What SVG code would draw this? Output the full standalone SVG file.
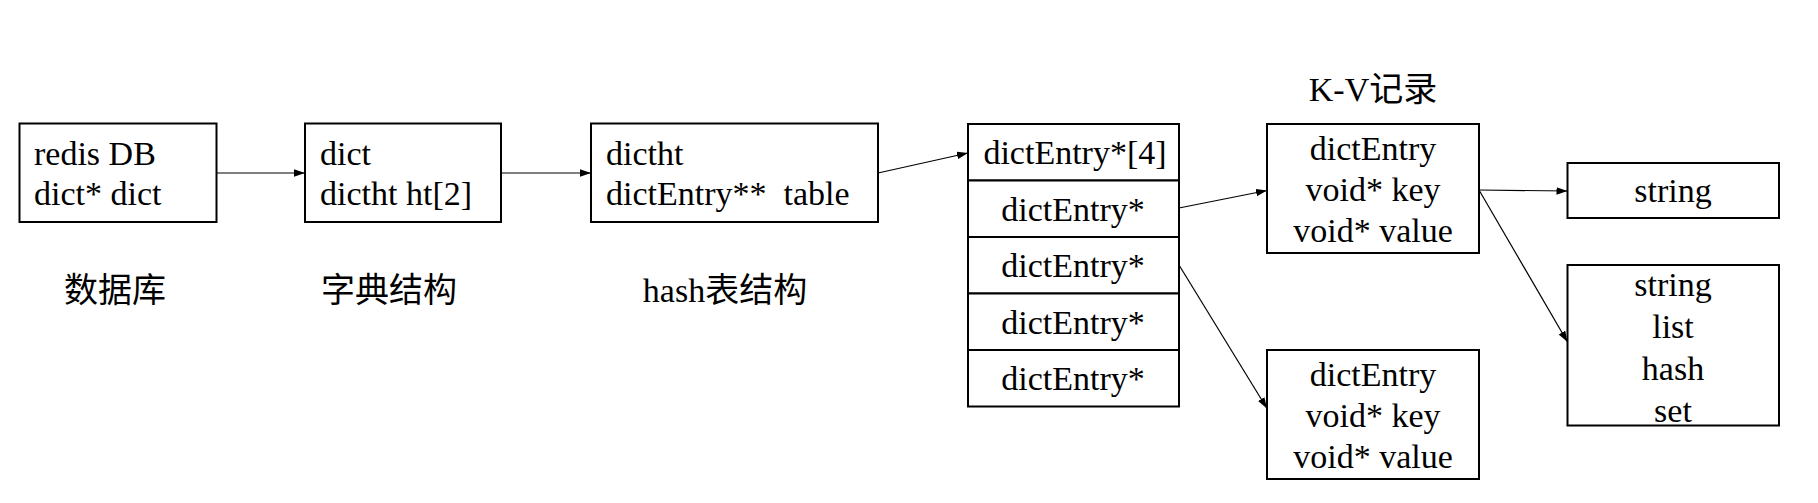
<svg xmlns="http://www.w3.org/2000/svg" width="1818" height="503" viewBox="0 0 1818 503">
  <style>
    .box { fill: #ffffff; stroke: #000000; stroke-width: 2; }
    .t { font-family: "Liberation Serif", "Noto Sans CJK SC", serif; font-size: 34px; fill: #000000; white-space: pre; }
    .c { text-anchor: middle; }
    .lbl { font-family: "Liberation Serif", "Noto Sans CJK SC", serif; font-size: 34px; fill: #000000; text-anchor: middle; }
    .conn { fill: none; stroke: #000000; stroke-width: 1.2; }
  </style>
  <defs>
    <marker id="arrow" markerUnits="userSpaceOnUse" markerWidth="12" markerHeight="8" refX="11" refY="3.75" orient="auto">
      <path d="M0,0 L11,3.75 L0,7.5 z" fill="#000000"/>
    </marker>
  </defs>
  <rect width="1818" height="503" fill="#ffffff"/>

  <g id="redisdb">
    <rect class="box" x="19.5" y="123.5" width="197" height="98.5"/>
    <text class="t" x="34" y="165">redis DB</text>
    <text class="t" x="34" y="205">dict* dict</text>
  </g>
  <g id="label-db">
    <text class="lbl" x="115" y="302">数据库</text>
  </g>

  <g id="dict">
    <rect class="box" x="305" y="123.5" width="196" height="98.5"/>
    <text class="t" x="320" y="165">dict</text>
    <text class="t" x="320" y="205">dictht ht[2]</text>
  </g>
  <g id="label-dict">
    <text class="lbl" x="389" y="302">字典结构</text>
  </g>

  <g id="dictht">
    <rect class="box" x="591" y="123.5" width="287" height="98.5"/>
    <text class="t" x="606" y="165">dictht</text>
    <text class="t" x="606" y="205">dictEntry**  table</text>
  </g>
  <g id="label-hash">
    <text class="lbl" x="725" y="302">hash表结构</text>
  </g>

  <g id="table">
    <rect class="box" x="968" y="124" width="211" height="56.5"/>
    <rect class="box" x="968" y="180.5" width="211" height="56.5"/>
    <rect class="box" x="968" y="237" width="211" height="56.5"/>
    <rect class="box" x="968" y="293.5" width="211" height="56.5"/>
    <rect class="box" x="968" y="350" width="211" height="56.5"/>
    <text class="t c" x="1075" y="164">dictEntry*[4]</text>
    <text class="t c" x="1073" y="220.5">dictEntry*</text>
    <text class="t c" x="1073" y="277">dictEntry*</text>
    <text class="t c" x="1073" y="333.5">dictEntry*</text>
    <text class="t c" x="1073" y="390">dictEntry*</text>
  </g>

  <g id="label-kv">
    <text class="lbl" x="1373" y="101">K-V记录</text>
  </g>

  <g id="entry1">
    <rect class="box" x="1267" y="124" width="212" height="129"/>
    <text class="t c" x="1373" y="160">dictEntry</text>
    <text class="t c" x="1373" y="201">void* key</text>
    <text class="t c" x="1373" y="242">void* value</text>
  </g>

  <g id="entry2">
    <rect class="box" x="1267" y="350" width="212" height="129"/>
    <text class="t c" x="1373" y="386">dictEntry</text>
    <text class="t c" x="1373" y="427">void* key</text>
    <text class="t c" x="1373" y="468">void* value</text>
  </g>

  <g id="string">
    <rect class="box" x="1567.5" y="163" width="211.5" height="55"/>
    <text class="t c" x="1673" y="202">string</text>
  </g>

  <g id="types">
    <rect class="box" x="1567.5" y="265" width="211.5" height="160.5"/>
    <text class="t c" x="1673" y="296">string</text>
    <text class="t c" x="1673" y="338">list</text>
    <text class="t c" x="1673" y="380">hash</text>
    <text class="t c" x="1673" y="422">set</text>
  </g>

  <g id="connectors">
    <line class="conn" x1="216.5" y1="173" x2="305" y2="173" marker-end="url(#arrow)"/>
    <line class="conn" x1="501" y1="173" x2="591" y2="173" marker-end="url(#arrow)"/>
    <line class="conn" x1="878" y1="173" x2="968" y2="153" marker-end="url(#arrow)"/>
    <line class="conn" x1="1179" y1="208" x2="1267" y2="190.5" marker-end="url(#arrow)"/>
    <line class="conn" x1="1179" y1="265" x2="1267" y2="408.5" marker-end="url(#arrow)"/>
    <line class="conn" x1="1479" y1="190" x2="1567.5" y2="191" marker-end="url(#arrow)"/>
    <line class="conn" x1="1479" y1="190" x2="1567.5" y2="342" marker-end="url(#arrow)"/>
  </g>
</svg>
